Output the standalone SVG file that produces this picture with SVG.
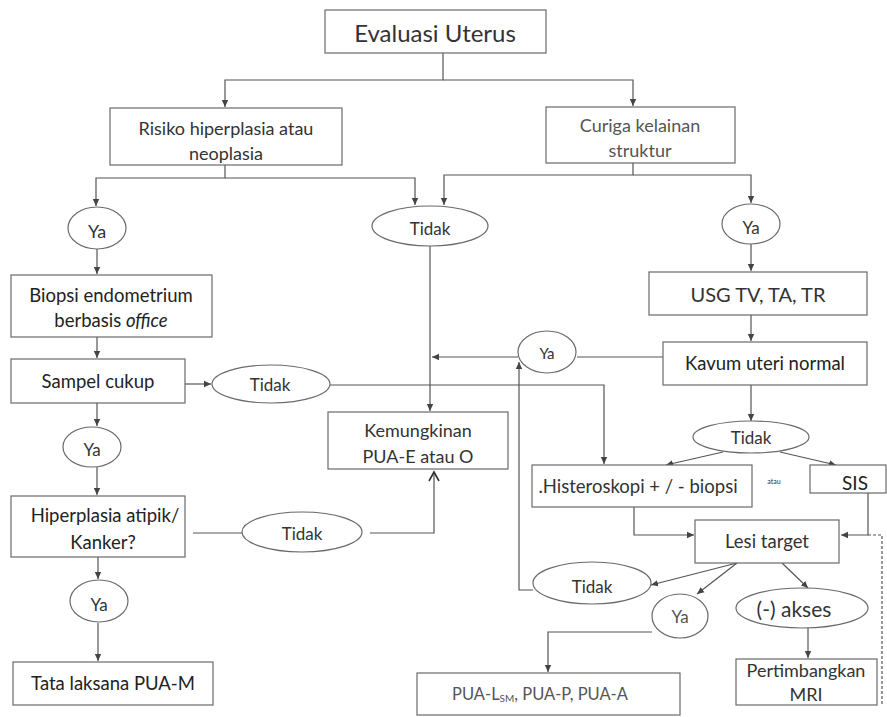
<svg xmlns="http://www.w3.org/2000/svg" width="887" height="717" viewBox="0 0 887 717">
<defs>
<style>
.box{fill:#fff;stroke:#6a6a6a;stroke-width:1.2}
.ell{fill:#fff;stroke:#6a6a6a;stroke-width:1.2}
.t{font-family:Lato,"Liberation Sans",sans-serif;fill:#333;text-anchor:middle;dominant-baseline:central}
.dk{fill:#222}
.lt{fill:#555}
.c{fill:none;stroke:#555;stroke-width:1.2}
.a{marker-end:url(#ah)}
.o{marker-end:url(#oh)}
.d{stroke-dasharray:3 2}
</style>
<marker id="ah" markerWidth="8" markerHeight="8" refX="7" refY="4" orient="auto" markerUnits="userSpaceOnUse">
<path d="M0,0.8 L7,4 L0,7.2 Z" fill="#444"/>
</marker>
<marker id="oh" markerWidth="12" markerHeight="12" refX="10" refY="6" orient="auto" markerUnits="userSpaceOnUse">
<path d="M1,1 L10,6 L1,11" fill="none" stroke="#333" stroke-width="1.6"/>
</marker>
</defs>
<rect width="887" height="717" fill="#fff"/>
<g id="connectors">
<path class="c a" d="M443,53 V80 H225 V107"/>
<path class="c a" d="M443,80 H633 V106"/>
<path class="c a" d="M225,165 V178 H96 V206"/>
<path class="c a" d="M225,178 H415 V205"/>
<path class="c a" d="M633,163 V175 H444 V205"/>
<path class="c a" d="M633,175 H751 V203"/>
<path class="c a" d="M97,249 V274"/>
<path class="c a" d="M97,337 V358"/>
<path class="c a" d="M185,384 H211"/>
<path class="c a" d="M330,385 H604 V464"/>
<path class="c a" d="M430,246 V411"/>
<path class="c" d="M663,357 H577"/>
<path class="c a" d="M518,357 H432"/>
<path class="c a" d="M533,590 H519 V362"/>
<path class="c a" d="M751,244 V271"/>
<path class="c a" d="M751,315 V341"/>
<path class="c a" d="M751,385 V421"/>
<path class="c a" d="M723,452 L666,465"/>
<path class="c a" d="M780,452 L836,465"/>
<path class="c a" d="M634,507 V535 H694"/>
<path class="c a" d="M868,493 V535 H841"/>
<path class="c d" d="M868,535 H882 V705"/>
<path class="c a" d="M737,563 L651,585"/>
<path class="c a" d="M737,563 L697,594"/>
<path class="c a" d="M782,563 L808,588"/>
<path class="c a" d="M652,632 H548 V672"/>
<path class="c a" d="M808,628 V658"/>
<path class="c a" d="M97,403 V426"/>
<path class="c a" d="M97,467 V495"/>
<path class="c" d="M193,533 H242"/>
<path class="c o" d="M370,533 H434 V472"/>
<path class="c a" d="M98,557 V579"/>
<path class="c a" d="M98,623 V661"/>
</g>
<g id="n-evaluasi"><rect class="box" x="325" y="10" width="221" height="43"/><text class="t" x="435" y="32" font-size="24">Evaluasi Uterus</text></g>
<g id="n-risiko"><rect class="box" x="110" y="108" width="232" height="57"/><text class="t" x="226" y="128" font-size="18">Risiko hiperplasia atau</text><text class="t" x="226" y="153" font-size="18">neoplasia</text></g>
<g id="n-curiga"><rect class="box" x="546" y="107" width="189" height="56"/><text class="t lt" x="640" y="125" font-size="18">Curiga kelainan</text><text class="t lt" x="640" y="150" font-size="18">struktur</text></g>
<g id="n-ya1"><ellipse class="ell" cx="97" cy="228" rx="29" ry="21"/><text class="t" x="97" y="231" font-size="18">Ya</text></g>
<g id="n-tidak1"><ellipse class="ell" cx="430" cy="226" rx="58" ry="20"/><text class="t" x="430" y="228" font-size="17">Tidak</text></g>
<g id="n-ya2"><ellipse class="ell" cx="751" cy="224" rx="29" ry="20"/><text class="t" x="751" y="227" font-size="17">Ya</text></g>
<g id="n-biopsi"><rect class="box" x="11" y="275" width="201" height="62"/><text class="t dk" x="111" y="295" font-size="18.5">Biopsi endometrium</text><text class="t dk" x="111" y="320" font-size="18.5">berbasis <tspan font-style="italic">office</tspan></text></g>
<g id="n-usg"><rect class="box" x="649" y="272" width="218" height="43"/><text class="t" x="758" y="294" font-size="20">USG TV, TA, TR</text></g>
<g id="n-sampel"><rect class="box" x="11" y="359" width="174" height="44"/><text class="t dk" x="98" y="381" font-size="18.5">Sampel cukup</text></g>
<g id="n-tidak2"><ellipse class="ell" cx="271" cy="384" rx="59" ry="19"/><text class="t" x="270" y="384" font-size="17">Tidak</text></g>
<g id="n-ya3"><ellipse class="ell" cx="547" cy="352" rx="29" ry="21"/><text class="t" x="547" y="353" font-size="15">Ya</text></g>
<g id="n-kavum"><rect class="box" x="663" y="342" width="204" height="43"/><text class="t dk" x="765" y="363" font-size="18.5">Kavum uteri normal</text></g>
<g id="n-kemungkinan"><rect class="box" x="328" y="412" width="180" height="57"/><text class="t" x="418" y="430" font-size="18">Kemungkinan</text><text class="t" x="418" y="456" font-size="18">PUA-E atau O</text></g>
<g id="n-ya4"><ellipse class="ell" cx="92" cy="447" rx="29" ry="20"/><text class="t" x="92" y="449" font-size="17">Ya</text></g>
<g id="n-tidak3"><ellipse class="ell" cx="751" cy="437" rx="58" ry="16"/><text class="t" x="751" y="437" font-size="17">Tidak</text></g>
<g id="n-histeroskopi"><rect class="box" x="532" y="465" width="220" height="42"/><text class="t" x="638" y="486" font-size="18.5">.Histeroskopi + / - biopsi</text></g>
<text class="t" x="774" y="481" font-size="7">atau</text>
<g id="n-sis"><rect class="box" x="810" y="465" width="76" height="28"/><text class="t dk" x="855" y="482" font-size="19">SIS</text></g>
<g id="n-hiperplasia"><rect class="box" x="11" y="496" width="174" height="61"/><text class="t dk" x="105" y="515" font-size="18.5">Hiperplasia atipik/</text><text class="t dk" x="103" y="542" font-size="18.5">Kanker?</text></g>
<g id="n-tidak4"><ellipse class="ell" cx="302" cy="532" rx="60" ry="20"/><text class="t" x="302" y="533" font-size="17">Tidak</text></g>
<g id="n-lesi"><rect class="box" x="695" y="520" width="144" height="43"/><text class="t" x="767" y="541" font-size="18.5">Lesi target</text></g>
<g id="n-tidak5"><ellipse class="ell" cx="592" cy="583" rx="59" ry="21"/><text class="t" x="592" y="586" font-size="17">Tidak</text></g>
<g id="n-ya5"><ellipse class="ell" cx="99" cy="601" rx="29" ry="21"/><text class="t" x="99" y="604" font-size="17">Ya</text></g>
<g id="n-ya6"><ellipse class="ell" cx="680" cy="616" rx="28" ry="22"/><text class="t lt" x="680" y="616" font-size="17">Ya</text></g>
<g id="n-akses"><ellipse class="ell" cx="802" cy="608" rx="66" ry="20"/><text class="t" x="794" y="608" font-size="21">(-) akses</text></g>
<g id="n-tata"><rect class="box" x="13" y="662" width="200" height="43"/><text class="t dk" x="113" y="683" font-size="18.5">Tata laksana PUA-M</text></g>
<g id="n-pua"><rect class="box" x="417" y="673" width="263" height="42"/><text class="t lt" x="540" y="694" font-size="16.5">PUA-L<tspan font-size="10" dy="4">SM</tspan><tspan dy="-4">, PUA-P, PUA-A</tspan></text></g>
<g id="n-mri"><rect class="box" x="736" y="659" width="141" height="46"/><text class="t" x="806" y="670" font-size="18">Pertimbangkan</text><text class="t" x="806" y="694" font-size="18">MRI</text></g>
</svg>
